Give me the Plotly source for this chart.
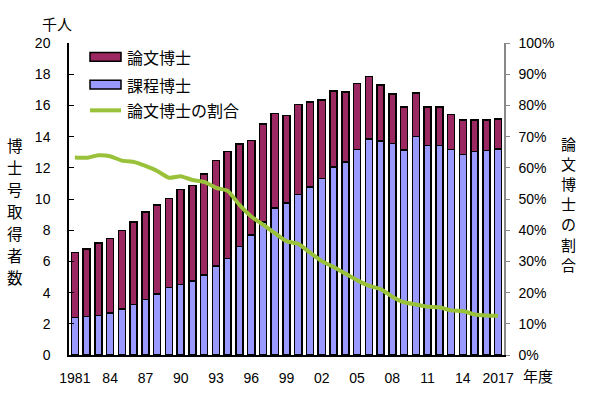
import plotly.graph_objects as go

years = list(range(1981, 2018))
katei = [2.39, 2.48, 2.54, 2.69, 2.96, 3.24, 3.57, 3.91, 4.32, 4.53, 4.74, 5.12, 5.69, 6.20, 6.94,
         7.68, 8.53, 9.42, 9.75, 10.30, 10.77, 11.32, 12.06, 12.36, 13.16, 13.86, 13.71, 13.56,
         13.14, 14.01, 13.44, 13.44, 13.18, 12.86, 13.05, 13.12, 13.19]
ronbun = [4.17, 4.33, 4.65, 4.78, 5.02, 5.29, 5.61, 5.70, 5.71, 6.09, 6.14, 6.48, 6.79, 6.85, 6.60,
          6.07, 6.28, 6.05, 5.59, 5.76, 5.44, 5.02, 4.87, 4.50, 4.26, 4.00, 3.60, 3.18,
          2.75, 2.77, 2.47, 2.47, 2.25, 2.21, 2.02, 1.95, 1.94]
ratio = [0.633, 0.632, 0.640, 0.637, 0.623, 0.619, 0.606, 0.590, 0.568, 0.573, 0.561, 0.555, 0.536,
         0.526, 0.481, 0.444, 0.418, 0.391, 0.365, 0.356, 0.328, 0.301, 0.282, 0.261, 0.240, 0.222,
         0.211, 0.187, 0.169, 0.162, 0.155, 0.153, 0.143, 0.141, 0.130, 0.127, 0.126]
tick_years = [1981, 1984, 1987, 1990, 1993, 1996, 1999, 2002, 2005, 2008, 2011, 2014, 2017]
tick_labels = ["1981", "84", "87", "90", "93", "96", "99", "02", "05", "08", "11", "14", "2017"]

JP = "Noto Sans CJK JP"
NUM = "Liberation Sans, Arial"
C_RON = "#9B2860"
C_KAT = "#9999FF"
C_LINE = "#99C23A"

L, R, T, B = 69, 96, 43, 40
PW, PH = 600 - L - R, 398 - T - B


def px(x):
    return (x - L) / PW


def py(y):
    return (398 - B - y) / PH


fig = go.Figure()
fig.add_trace(go.Bar(x=years, y=katei, name="課程博士", marker=dict(color=C_KAT, line=dict(color="black", width=1.5)), width=0.6))
fig.add_trace(go.Bar(x=years, y=ronbun, name="論文博士", marker=dict(color=C_RON, line=dict(color="black", width=1.5)), width=0.6))
fig.add_trace(go.Scatter(x=years, y=ratio, name="論文博士の割合", yaxis="y2", mode="lines",
                         line=dict(color=C_LINE, width=4, shape="spline", smoothing=0.5)))

fig.update_layout(
    width=600, height=398,
    margin=dict(l=L, r=R, t=T, b=B),
    paper_bgcolor="white", plot_bgcolor="white",
    barmode="stack", showlegend=False,
    font=dict(family=NUM, size=14, color="black"),
    xaxis=dict(range=[1980.5, 2017.5], tickvals=tick_years, ticktext=tick_labels,
               showline=True, linecolor="black", linewidth=1.5, ticks="", showgrid=False,
               zeroline=False, ticklabelstandoff=9, tickfont=dict(family=NUM, size=14)),
    yaxis=dict(range=[0, 20], dtick=2, showline=True, linecolor="black", linewidth=1.5,
               ticks="inside", ticklen=5, tickcolor="black", showgrid=False, zeroline=False,
               ticklabelstandoff=14, tickfont=dict(family=NUM, size=14)),
    yaxis2=dict(range=[0, 1], dtick=0.1, tickformat=".0%", overlaying="y", side="right",
                showline=True, linecolor="#888888", linewidth=1.5, ticks="outside", ticklen=4,
                tickcolor="#888888", showgrid=False, zeroline=False, ticklabelstandoff=6,
                tickfont=dict(family=NUM, size=14)),
)

# legend drawn manually
leg = [("論文博士", C_RON, 57), ("課程博士", C_KAT, 85)]
for txt, col, yc in leg:
    fig.add_shape(type="rect", xref="paper", yref="paper",
                  x0=px(90), x1=px(121), y0=py(yc - 4.5), y1=py(yc + 4.5),
                  fillcolor=col, line=dict(color="black", width=1.5))
    fig.add_annotation(text=txt, xref="paper", yref="paper", x=px(125), y=py(yc),
                       xanchor="left", yanchor="middle", showarrow=False, font=dict(family=JP, size=16))
fig.add_shape(type="line", xref="paper", yref="paper", x0=px(90), x1=px(121),
              y0=py(111), y1=py(111), line=dict(color=C_LINE, width=4))
fig.add_annotation(text="論文博士の割合", xref="paper", yref="paper", x=px(125), y=py(111),
                   xanchor="left", yanchor="middle", showarrow=False, font=dict(family=JP, size=16))

# axis titles
fig.add_annotation(text="千人", xref="paper", yref="paper", x=px(57), y=py(23),
                   xanchor="center", yanchor="middle", showarrow=False, font=dict(family=JP, size=15))
for i, ch in enumerate("博士号取得者数"):
    fig.add_annotation(text=ch, xref="paper", yref="paper", x=px(15), y=py(146 + i * 22.2),
                       xanchor="center", yanchor="middle", showarrow=False, font=dict(family=JP, size=15.5))
for i, ch in enumerate("論文博士の割合"):
    fig.add_annotation(text=ch, xref="paper", yref="paper", x=px(568), y=py(144 + i * 20.4),
                       xanchor="center", yanchor="middle", showarrow=False, font=dict(family=JP, size=15))
fig.add_annotation(text="年度", xref="paper", yref="paper", x=px(538), y=py(379),
                   xanchor="center", yanchor="middle", showarrow=False, font=dict(family=JP, size=15))

fig.write_html("out.html", config={"displayModeBar": False},
               post_script="document.body.style.margin='0';document.body.style.overflow='hidden';")
